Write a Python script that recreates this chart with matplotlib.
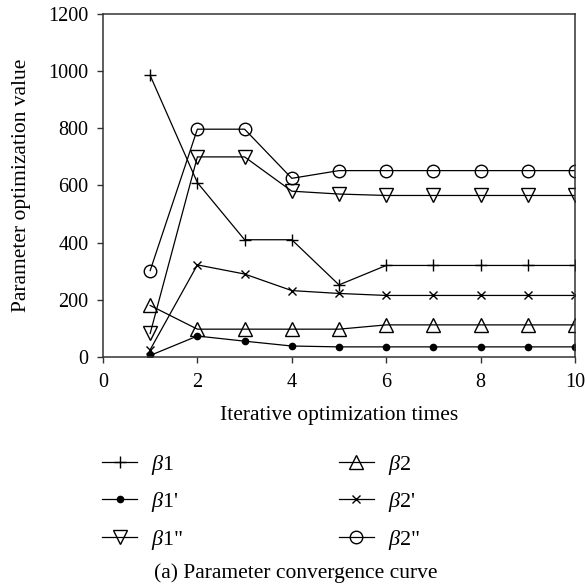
#!/usr/bin/env python3

import matplotlib

matplotlib.use("Agg")
import matplotlib.pyplot as plt

plt.rcParams["font.family"] = ["Liberation Serif", "DejaVu Serif"]
plt.rcParams["mathtext.fontset"] = "custom"
plt.rcParams["mathtext.rm"] = "Liberation Serif"
plt.rcParams["mathtext.it"] = "Liberation Serif:italic"

# Values
iterations = [1, 2, 3, 4, 5, 6, 7, 8, 9, 10]
beta1 = [985, 610, 410, 410, 252, 320, 320, 320, 320, 320]
beta1_p = [5, 73, 55, 38, 35, 35, 35, 35, 35, 35]
beta1_pp = [82, 700, 700, 580, 570, 565, 565, 565, 565, 565]
beta2 = [180, 97, 97, 97, 97, 112, 112, 112, 112, 112]
beta2_p = [25, 322, 290, 232, 222, 215, 215, 215, 215, 215]
beta2_pp = [302, 797, 797, 625, 652, 652, 652, 652, 652, 652]

x_ticks = [0, 2, 4, 6, 8, 10]
y_ticks = [0, 200, 400, 600, 800, 1000, 1200]

fig = plt.figure(figsize=(5.85, 5.86), dpi=100)
ax = fig.add_axes([0.176, 0.391, 0.807, 0.585])

line_kw = dict(color="black", linewidth=0.9)
hollow = dict(fillstyle="none", markeredgewidth=1.0)

ax.plot(iterations, beta1, marker="+", markersize=8.5, markeredgewidth=1.0,
        label=r"$\it{\beta}$1", **line_kw)
ax.plot(iterations, beta1_p, marker="o", markersize=4.5,
        label=r"$\it{\beta}$1'", **line_kw)
ax.plot(iterations, beta1_pp, marker="v", markersize=9.5,
        label=r'$\it{\beta}$1"', **hollow, **line_kw)
ax.plot(iterations, beta2, marker="^", markersize=9.5,
        label=r"$\it{\beta}$2", **hollow, **line_kw)
ax.plot(iterations, beta2_p, marker="x", markersize=6, markeredgewidth=1.0,
        label=r"$\it{\beta}$2'", **line_kw)
ax.plot(iterations, beta2_pp, marker="o", markersize=9,
        label=r'$\it{\beta}$2"', **hollow, **line_kw)

ax.set_xlim(0, 10)
ax.set_ylim(0, 1200)
ax.set_xticks(x_ticks)
ax.set_yticks(y_ticks)
ax.tick_params(direction="out", length=4.5, width=1.0, labelsize=14.5, pad=6,
               colors="#333333", labelcolor="black")
ax.tick_params(axis="x", pad=7)
for spine in ax.spines.values():
    spine.set_color("#333333")
    spine.set_linewidth(1.1)

ax.set_xlabel("Iterative optimization times", fontsize=15.5, labelpad=10)
ax.set_ylabel("Parameter optimization value", fontsize=15.5, labelpad=12)

fig.legend(
    loc="center left",
    bbox_to_anchor=(0.14, 0.143),
    ncol=2,
    frameon=False,
    fontsize=16,
    handlelength=1.6,
    handletextpad=0.6,
    columnspacing=7.0,
    labelspacing=0.6,
)

fig.text(0.505, 0.022, "(a) Parameter convergence curve", ha="center",
         va="center", fontsize=15.5)

fig.savefig("out.png", dpi=100)
